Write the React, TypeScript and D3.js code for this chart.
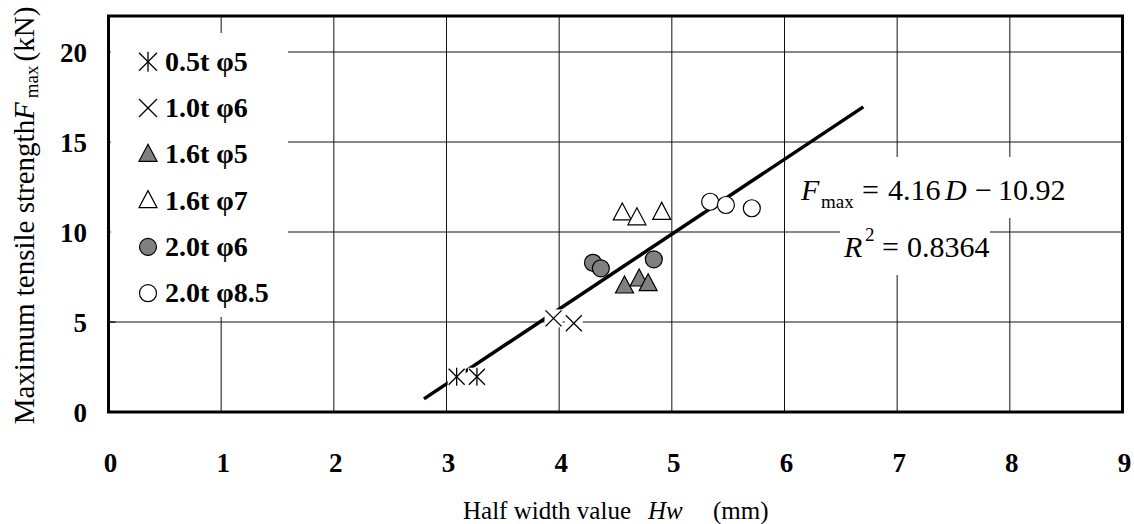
import React from "react";
import * as d3 from "d3";

const xTicks = [0, 1, 2, 3, 4, 5, 6, 7, 8, 9];
const yTicks = [0, 5, 10, 15, 20];

const seriesNames = ["0.5t φ5", "1.0t φ6", "1.6t φ5", "1.6t φ7", "2.0t φ6", "2.0t φ8.5"];
const seriesShapes = ["star", "cross", "triFill", "triOpen", "circFill", "circOpen"];

const s1X = [3.09, 3.27];
const s1Y = [1.96, 1.96];
const s2X = [3.95, 4.13];
const s2Y = [5.2, 4.93];
const s3X = [4.58, 4.71, 4.79];
const s3Y = [7.0, 7.39, 7.13];
const s4X = [4.56, 4.69, 4.91];
const s4Y = [11.06, 10.79, 11.09];
const s5X = [4.3, 4.37, 4.84];
const s5Y = [8.29, 7.98, 8.48];
const s6X = [5.34, 5.48, 5.71];
const s6Y = [11.68, 11.5, 11.32];

const fitX = [2.8, 6.7];
const fitY = [0.73, 16.95];

const seriesX = [s1X, s2X, s3X, s4X, s5X, s6X];
const seriesY = [s1Y, s2Y, s3Y, s4Y, s5Y, s6Y];

const FONT = "'Liberation Serif', 'Times New Roman', serif";

const L = 108.5, R = 1122.5, T = 16, B = 412;
const x = d3.scaleLinear().domain([0, 9]).range([L, R]);
const y = d3.scaleLinear().domain([0, 22]).range([B, T]);

function Marker({ shape, cx, cy }: { shape: string; cx: number; cy: number }) {
  const gray = "#808080";
  if (shape === "star" || shape === "cross") {
    const h = 8;
    return (
      <g>
        <rect x={cx - 9} y={cy - 9} width={18} height={18} fill="#fff" />
        <line x1={cx - h} y1={cy - h} x2={cx + h} y2={cy + h} stroke="#000" strokeWidth={1.3} />
        <line x1={cx - h} y1={cy + h} x2={cx + h} y2={cy - h} stroke="#000" strokeWidth={1.3} />
        {shape === "star" && (
          <line x1={cx} y1={cy - h - 1} x2={cx} y2={cy + h + 1} stroke="#000" strokeWidth={1.3} />
        )}
      </g>
    );
  }
  if (shape === "triFill" || shape === "triOpen") {
    const pts = `${cx},${cy - 10} ${cx + 9},${cy + 7} ${cx - 9},${cy + 7}`;
    return (
      <polygon
        points={pts}
        fill={shape === "triFill" ? gray : "#fff"}
        stroke="#000"
        strokeWidth={1.2}
      />
    );
  }
  return (
    <circle
      cx={cx}
      cy={cy}
      r={8.5}
      fill={shape === "circFill" ? gray : "#fff"}
      stroke="#000"
      strokeWidth={1.2}
    />
  );
}

export default function App() {
  const line = d3
    .line<number>()
    .x((d) => x(fitX[d]))
    .y((d) => y(fitY[d]));
  const legendY0 = 61.7;
  const legendStep = 46.3;
  return (
    <svg
      width={1134}
      height={524}
      style={{ position: "absolute", left: 0, top: 0, background: "#fff" }}
      fontFamily={FONT}
    >
      <rect x={0} y={0} width={1134} height={524} fill="#fff" />
      {/* gridlines */}
      {xTicks.slice(1, -1).map((t) => (
        <line key={"gx" + t} x1={x(t)} x2={x(t)} y1={T} y2={B} stroke="#111" strokeWidth={1} />
      ))}
      {yTicks.slice(1).map((t) => (
        <line key={"gy" + t} x1={L} x2={R} y1={y(t)} y2={y(t)} stroke="#111" strokeWidth={1} />
      ))}
      {/* y ticks inward */}
      {yTicks.map((t) => (
        <line key={"ty" + t} x1={L} x2={L + 7} y1={y(t)} y2={y(t)} stroke="#000" strokeWidth={1.2} />
      ))}
      {/* legend background */}
      <rect x={L + 2} y={33} width={288 - L - 2} height={284} fill="#fff" />
      {/* equation backgrounds */}
      <rect x={790} y={157} width={290} height={61} fill="#fff" />
      <rect x={840} y={218} width={150} height={57} fill="#fff" />

      {/* regression line */}
      <path d={line([0, 1]) || ""} fill="none" stroke="#000" strokeWidth={3.5} />

      {/* markers */}
      {seriesX.map((xs, si) =>
        xs.map((xv, i) => (
          <Marker key={si + "-" + i} shape={seriesShapes[si]} cx={x(xv)} cy={y(seriesY[si][i])} />
        ))
      )}

      {/* plot border */}
      <rect x={L} y={T} width={R - L} height={B - T} fill="none" stroke="#000" strokeWidth={3} />

      {/* legend */}
      {seriesNames.map((name, i) => {
        const cy = legendY0 + i * legendStep;
        return (
          <g key={"lg" + i}>
            {seriesShapes[i] === "star" || seriesShapes[i] === "cross" ? (
              <g>
                <line x1={139} y1={cy - 9} x2={157} y2={cy + 9} stroke="#000" strokeWidth={1.3} />
                <line x1={139} y1={cy + 9} x2={157} y2={cy - 9} stroke="#000" strokeWidth={1.3} />
                {seriesShapes[i] === "star" && (
                  <line x1={148} y1={cy - 10} x2={148} y2={cy + 10} stroke="#000" strokeWidth={1.3} />
                )}
              </g>
            ) : (
              <Marker shape={seriesShapes[i]} cx={148} cy={cy} />
            )}
            <text x={165} y={cy + 9} fontSize={28} fontWeight="bold" fill="#000">
              {name}
            </text>
          </g>
        );
      })}

      {/* y tick labels */}
      {yTicks.map((t) => (
        <text
          key={"yl" + t}
          x={87}
          y={y(t) + 9.5}
          textAnchor="end"
          fontSize={27}
          fontWeight="bold"
          fill="#000"
        >
          {t}
        </text>
      ))}
      {/* x tick labels */}
      {xTicks.map((t) => (
        <text
          key={"xl" + t}
          x={x(t) + 2}
          y={471.5}
          textAnchor="middle"
          fontSize={27}
          fontWeight="bold"
          fill="#000"
        >
          {t}
        </text>
      ))}

      {/* x title */}
      <text y={519} fontSize={25} fill="#000">
        <tspan x={463}>Half width value</tspan>
        <tspan x={648} fontStyle="italic">Hw</tspan>
        <tspan x={713}>(mm)</tspan>
      </text>

      {/* y title */}
      <text
        transform="translate(34,215.5) rotate(-90)"
        textAnchor="middle"
        fontSize={29}
        fill="#000"
      >
        <tspan>Maximum tensile strength</tspan>
        <tspan fontStyle="italic">F</tspan>
        <tspan fontSize={19} dy={4} dx={4}>max</tspan>
        <tspan dy={-4} dx={4}>(kN)</tspan>
      </text>

      {/* equation */}
      <text y={200} fontSize={30} fill="#000">
        <tspan x={801} fontStyle="italic">F</tspan>
        <tspan x={821} y={208} fontSize={19}>max</tspan>
        <tspan x={862} y={200}>=</tspan>
        <tspan x={888}>4.16</tspan>
        <tspan x={945} fontStyle="italic">D</tspan>
        <tspan x={975}>−</tspan>
        <tspan x={998}>10.92</tspan>
      </text>
      <text y={257} fontSize={30} fill="#000">
        <tspan x={844} fontStyle="italic">R</tspan>
        <tspan x={865} y={241} fontSize={19}>2</tspan>
        <tspan x={882} y={257}>=</tspan>
        <tspan x={907}>0.8364</tspan>
      </text>
    </svg>
  );
}
